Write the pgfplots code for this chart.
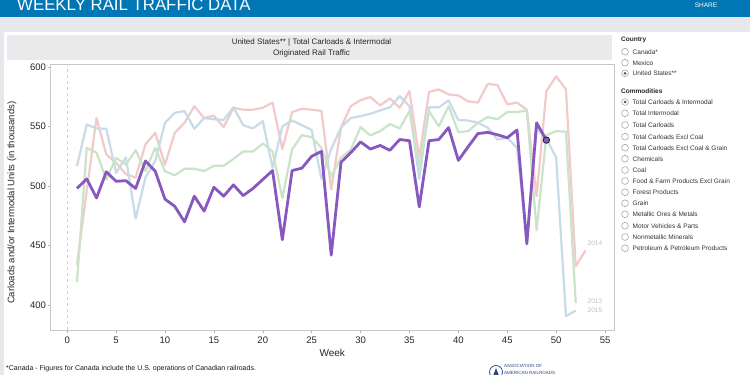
\documentclass[border=0pt]{standalone}
\usepackage{pgfplots}
\pgfplotsset{compat=1.18}
\usepackage{fontspec}
\setmainfont{Liberation Sans}
\definecolor{banner}{RGB}{0,118,180}
\definecolor{bggrey}{RGB}{230,232,235}
\definecolor{hdrgrey}{RGB}{233,234,236}
\definecolor{cpurple}{RGB}{135,88,192}
\definecolor{cpink}{RGB}{242,202,202}
\definecolor{cblue}{RGB}{200,219,232}
\definecolor{cgreen}{RGB}{202,228,202}
\definecolor{aarblue}{RGB}{40,70,130}
\begin{document}
\begin{tikzpicture}[x=1pt,y=1pt]
\path[use as bounding box] (0,0) rectangle (750,375);
\fill[bggrey] (0,0) rectangle (750,375);
\fill[white] (4,0) rectangle (750,343);
\fill[banner] (0,358) rectangle (750,375);
\begin{scope}
\clip (0,0) rectangle (750,375);
\node[anchor=base west, text=white, font=\fontsize{16.8}{17}\selectfont, inner sep=0] at (17,364.5) {WEEKLY RAIL TRAFFIC DATA};
\end{scope}
\node[text=white, font=\fontsize{6.5}{7}\selectfont, inner sep=0] at (706,370) {SHARE};
\fill[hdrgrey] (7,315) rectangle (612,340);
\node[font=\fontsize{8}{9}\selectfont, inner sep=0, text=black!85] at (311.5,332.5) {United States** | Total Carloads \& Intermodal};
\node[font=\fontsize{8}{9}\selectfont, inner sep=0, text=black!85] at (311.5,321.5) {Originated Rail Traffic};

\begin{axis}[
  at={(51.7,37.4)}, anchor=south west, scale only axis,
  width=563.3pt, height=266.6pt,
  xmin=-1.7, xmax=55.9, ymin=379, ymax=602.5,
  xtick={0,5,...,55}, ytick={400,450,500,550,600},
  axis line style={draw=black!22},
  tick style={draw=black!30, line width=0.5pt},
  tick align=outside, major tick length=3pt,
  tick pos=left,
  ticklabel style={font=\fontsize{9.5}{10}\selectfont, text=black!85},
  yticklabel style={inner sep=1.5pt},
  /pgf/number format/assume math mode=true,
  xlabel={Week}, ylabel={Carloads and/or Intermodal Units (in thousands)},
  xlabel style={at={(axis description cs:0.5,-0.0851)}, anchor=center, font=\fontsize{10}{11}\selectfont, text=black!85},
  ylabel style={at={(axis description cs:-0.0687,0.4786)}, anchor=center, font=\fontsize{9.5}{10}\selectfont, text=black!85},
  line join=round,
]
\draw[black!18, dashed, line width=0.5pt] (axis cs:0,379) -- (axis cs:0,602.5);
% 2014
\addplot[cpink, line width=2.2pt, mark=none] coordinates {
(1,434)(2,496)(3,557)(4,526.5)(5,519.5)(6,510)(7,507)(8,535)(9,544.6)(10,518)
(11,544.6)(12,553)(13,567)(14,557)(15,559)(16,549.4)(17,565.6)(18,564)(19,564)(20,565.6)
(21,570)(22,531)(23,562)(24,564.8)(25,564)(26,563)(27,497)(28,549)(29,567)(30,572)
(31,574.6)(32,567.6)(33,573.5)(34,565.6)(35,579.6)(36,523.7)(37,579)(38,581)(39,576.8)(40,576)
(41,571)(42,570)(43,585.7)(44,584.6)(45,568.5)(46,570)(47,564)(48,491.5)(49,579.6)(50,592)
(51,581)(52,432.8)(53,446)};
% 2015
\addplot[cblue, line width=2.2pt, mark=none] coordinates {
(1,516.7)(2,551.7)(3,548.3)(4,548)(5,511)(6,524)(7,472.8)(8,507)(9,521)(10,553)
(11,561.4)(12,562.8)(13,548)(14,557)(15,556)(16,555.5)(17,566)(18,551)(19,548.3)(20,554.4)
(21,515.3)(22,550)(23,555)(24,551)(25,547)(26,506)(27,531)(28,549)(29,557)(30,558.6)
(31,560.6)(32,563.4)(33,566)(34,575.4)(35,567)(36,506)(37,566)(38,566)(39,571.8)(40,555.3)
(41,555)(42,553)(43,549)(44,539)(45,540.5)(46,532)(47,455)(48,548)(49,540)(50,523.7)
(51,391)(52,395.6)};
% 2013
\addplot[cgreen, line width=2.2pt, mark=none] coordinates {
(1,419.6)(2,532)(3,528)(4,505.5)(5,523.7)(6,518)(7,530)(8,512.5)(9,532)(10,512.5)
(11,509)(12,514.5)(13,514.5)(14,512.5)(15,517)(16,517)(17,522.8)(18,529)(19,529)(20,535.7)
(21,529)(22,490)(23,530.7)(24,542.7)(25,541)(26,532)(27,508)(28,523.7)(29,530.7)(30,549.4)
(31,542.4)(32,546)(33,552)(34,548.3)(35,562.8)(36,515)(37,562.8)(38,550)(39,567)(40,545.2)
(41,546)(42,553)(43,557.8)(44,556)(45,562)(46,562)(47,563.4)(48,463)(49,542.7)(50,546)
(51,545.6)(52,402)};
% 2016
\addplot[cpurple, line width=2.8pt, mark=none] coordinates {
(1,498)(2,506)(3,490)(4,512)(5,504)(6,504.5)(7,498)(8,521)(9,512.5)(10,489)
(11,483)(12,470)(13,491.5)(14,479)(15,499)(16,491.5)(17,501)(18,492)(19,498)(20,505.5)
(21,513)(22,455)(23,513)(24,515)(25,525)(26,529)(27,442)(28,520)(29,528)(30,537)
(31,531)(32,534)(33,530)(34,539)(35,538)(36,482.5)(37,538)(38,539)(39,549)(40,521.5)
(41,533)(42,544)(43,545)(44,543)(45,540.5)(46,547)(47,451.5)(48,553)(49,538.5)};
\addplot[only marks, mark=*, mark size=3.2pt, mark options={fill=cpurple, draw=black!85, line width=0.9pt}] coordinates {(49,538.5)};
\node[anchor=west, inner sep=0, font=\fontsize{6.5}{7}\selectfont, text=black!25] at (axis cs:53.2,452.3) {2014};
\node[anchor=west, inner sep=0, font=\fontsize{6.5}{7}\selectfont, text=black!25] at (axis cs:53.2,403.4) {2013};
\node[anchor=west, inner sep=0, font=\fontsize{6.5}{7}\selectfont, text=black!25] at (axis cs:53.2,396) {2015};
\end{axis}

% right panel
\node[anchor=west, inner sep=0, font=\bfseries\fontsize{6.5}{7}\selectfont, text=black!85] at (621,335) {Country};
\node[anchor=west, inner sep=0, font=\bfseries\fontsize{6.5}{7}\selectfont, text=black!85] at (621,284) {Commodities};
\foreach \yy/\t in {323.3/{Canada*},312.3/{Mexico},301.7/{United States**},
  273/{Total Carloads \& Intermodal},261.7/{Total Intermodal},250/{Total Carloads},
  238.3/{Total Carloads Excl Coal},227.3/{Total Carloads Excl Coal \& Grain},216.3/{Chemicals},
  205/{Coal},194/{Food \& Farm Products Excl Grain},182.7/{Forest Products},171.7/{Grain},
  160.7/{Metallic Ores \& Metals},149.3/{Motor Vehicles \& Parts},138/{Nonmetallic Minerals},
  126.7/{Petroleum \& Petroleum Products}}{
  \draw[black!40, line width=0.5pt, fill=white] (625,\yy) circle (3.4);
  \node[anchor=west, inner sep=0, font=\fontsize{6.5}{7}\selectfont, text=black!80] at (632.5,\yy) {\t};
}
\fill[black!65] (625,301.7) circle (1.5);
\fill[black!65] (625,273) circle (1.5);

% footer
\node[anchor=west, inner sep=0, font=\fontsize{7}{8}\selectfont, text=black!90] at (6,6.5) {*Canada - Figures for Canada include the U.S. operations of Canadian railroads.};
\draw[aarblue, line width=0.7pt] (496,3) circle (6.5);
\fill[aarblue] (493,-1) -- (496,7) -- (499,-1) -- cycle;
\node[anchor=west, inner sep=0, font=\fontsize{4.5}{5}\selectfont, text=aarblue] at (504,9.5) {ASSOCIATION OF};
\node[anchor=west, inner sep=0, font=\fontsize{4.5}{5}\selectfont, text=aarblue] at (504,2.5) {AMERICAN RAILROADS};
\end{tikzpicture}
\end{document}
